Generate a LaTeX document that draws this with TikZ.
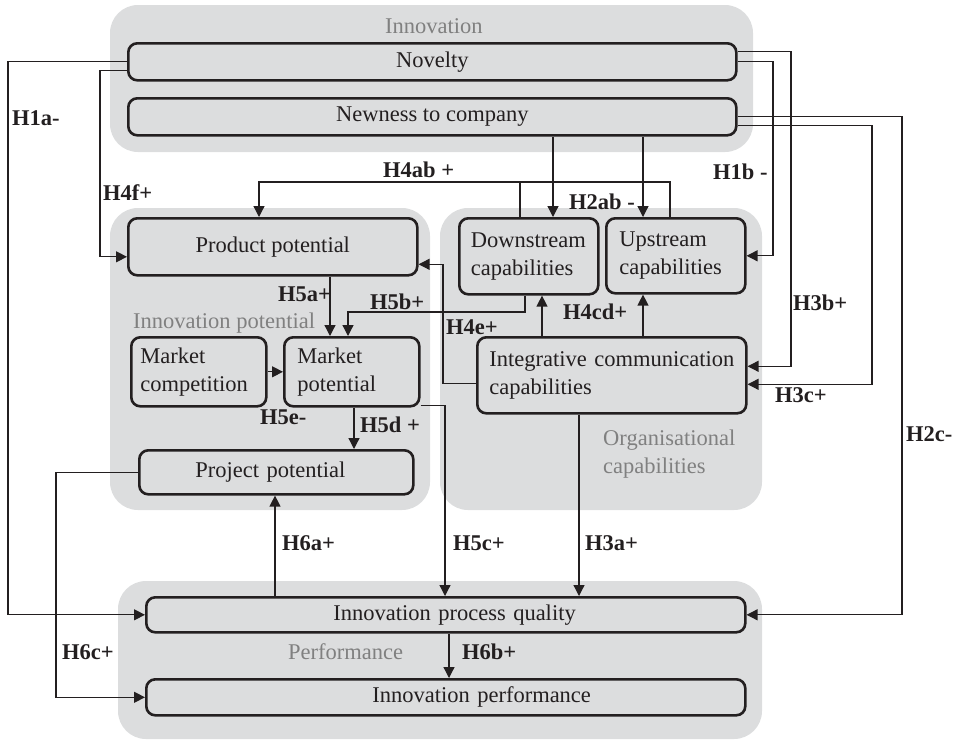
\documentclass[tikz,border=0pt]{standalone}
\usepackage{fontspec}
\setmainfont{Liberation Serif}
\usetikzlibrary{arrows.meta,calc}
\definecolor{grpfill}{HTML}{DCDDDE}
\definecolor{ink}{HTML}{231F20}
\definecolor{glabel}{HTML}{808080}

\tikzset{
  grp/.style={fill=grpfill, rounded corners=28pt},
  box/.style={draw=ink, line width=2.6pt, fill=grpfill, rounded corners=9pt,
    inner sep=0pt, text=ink, font=\fontsize{22.5}{28}\selectfont, anchor=north west},
  conn/.style={draw=ink, line width=1.25pt},
  arr/.style={conn, -{Triangle[length=11pt,width=11pt]}},
  lbl/.style={font=\fontsize{22.5}{28}\selectfont\bfseries, text=ink, inner sep=0pt, anchor=west},
  glbl/.style={font=\fontsize{22.5}{28}\selectfont, text=glabel, inner sep=0pt, anchor=base west},
}

\begin{document}
\begin{tikzpicture}[x=1pt,y=-1pt]
\useasboundingbox (0,0) rectangle (956,740);

% construct groups
\fill[grp] (110,5) rectangle (753,152);
\fill[grp] (110,208) rectangle (430,510);
\fill[grp] (440,208) rectangle (762,510);
\fill[grp] (118,581) rectangle (762,739);

% group titles
\node[glbl] (tInn) at (385,33) {Innovation};
\node[glbl] (tPot) at (133,328) {Innovation potential};
\node[glbl] (tOrg1) at (603,445) {Organisational};
\node[glbl] (tOrg2) at (603,473) {capabilities};
\node[glbl] (tPerf) at (288,659) {Performance};

% constructs
\node[box, minimum width=608pt, minimum height=37pt] (nov) at (127,42) {Novelty};
\node[box, minimum width=608pt, minimum height=37pt] (new) at (127,97) {Newness to company};
\node[box, minimum width=289pt, minimum height=57pt] (prod) at (127,217) {Product potential};
\node[box, minimum width=139pt, minimum height=76pt, text width=116pt, align=left] (down) at (458,217) {Downstream\\capabilities};
\node[box, minimum width=139pt, minimum height=75pt, text width=113pt, align=left] (up) at (605,217) {Upstream\\capabilities};
\node[box, minimum width=135pt, minimum height=69pt, text width=117pt, align=left] (mcomp) at (130,336) {Market\\competition};
\node[box, minimum width=135pt, minimum height=69pt, text width=109pt, align=left] (mpot) at (283,336) {Market\\potential};
\node[box, minimum width=274pt, minimum height=44pt, text width=250pt, align=left] (proj) at (138,449) {\hspace*{44pt}Project potential};
\node[box, minimum width=269pt, minimum height=76pt, text width=245pt, align=left] (integ) at (476,336) {Integrative communication\\capabilities};
\node[box, minimum width=599pt, minimum height=35pt, text width=575pt, align=left] (ipq) at (145,596) {\hspace*{175pt}Innovation process quality};
\node[box, minimum width=599pt, minimum height=36pt, text width=575pt, align=left] (iperf) at (145,678) {\hspace*{214pt}Innovation performance};

% connector columns and rows
\coordinate (cA) at (8,0);
\coordinate (cB) at (100,0);
\coordinate (cC) at (259,0);
\coordinate (cD) at (520,0);
\coordinate (cE) at (670,0);
\coordinate (cF) at (553,0);
\coordinate (cG) at (643,0);
\coordinate (cH) at (773,0);
\coordinate (cI) at (791,0);
\coordinate (cJ) at (902,0);
\coordinate (cK) at (872,0);
\coordinate (cL) at (443,0);
\coordinate (cM) at (525,0);
\coordinate (cN) at (348,0);
\coordinate (cO) at (330,0);
\coordinate (cP) at (542,0);
\coordinate (cQ) at (354,0);
\coordinate (cR) at (445,0);
\coordinate (cS) at (579,0);
\coordinate (cT) at (275,0);
\coordinate (cU) at (56,0);
\coordinate (cV) at (449,0);
\coordinate (r182) at (0,182);
\coordinate (r312) at (0,312);

% hypotheses
\draw[arr] (nov.west) -| (cA |- ipq.west) -- (ipq.west);
\draw[arr] ($(nov.west)+(0,9)$) -| ($(cB |- prod.west)+(0,10)$) -- ($(prod.west)+(0,10)$);
\draw[arr] (cE |- up.north) |- (cC |- r182) -- (cC |- prod.north);
\draw[conn] (cD |- down.north) -- (cD |- r182);
\draw[arr] (cF |- new.south) -- (cF |- down.north);
\draw[arr] (cG |- new.south) -- (cG |- up.north);
\draw[arr] (nov.east) -| (cH |- up.east) -- (up.east);
\draw[arr] ($(nov.east)+(0,-10)$) -| ($(cI |- integ.east)+(0,-9)$) -- ($(integ.east)+(0,-9)$);
\draw[arr] (new.east) -| (cJ |- ipq.east) -- (ipq.east);
\draw[arr] ($(new.east)+(0,9)$) -| ($(cK |- integ.east)+(0,9)$) -- ($(integ.east)+(0,9)$);
\draw[arr] ($(integ.west)+(0,8.5)$) -| ($(cL |- prod.east)+(0,17.5)$) -- ($(prod.east)+(0,17.5)$);
\draw[arr] (cM |- down.south) |- (cN |- r312) -- (cN |- mpot.north);
\draw[arr] (cO |- prod.south) -- (cO |- mpot.north);
\draw[arr] (cP |- integ.north) -- (cP |- down.south);
\draw[arr] (cG |- integ.north) -- (cG |- up.south);
\draw[arr] (mcomp.east) -- (mpot.west);
\draw[arr] (cQ |- mpot.south) -- (cQ |- proj.north);
\draw[arr] ($(mpot.south east)+(0,-2)$) -| (cR |- ipq.north);
\draw[arr] (cS |- integ.south) -- (cS |- ipq.north);
\draw[arr] (cT |- ipq.north) -- (cT |- proj.south);
\draw[arr] (proj.west) -| (cU |- iperf.west) -- (iperf.west);
\draw[arr] (cV |- ipq.south) -- (cV |- iperf.north);

% hypothesis labels
\node[lbl] (lH1a) at (12,118) {H1a-};
\node[lbl] (lH4f) at (103,193) {H4f+};
\node[lbl] (lH4ab) at (383,170) {H4ab +};
\node[lbl] (lH2ab) at (569,202) {H2ab -};
\node[lbl] (lH1b) at (713,172) {H1b -};
\node[lbl] (lH3b) at (793,303) {H3b+};
\node[lbl] (lH3c) at (775,395) {H3c+};
\node[lbl] (lH2c) at (906,434) {H2c-};
\node[lbl] (lH4e) at (446,327) {H4e+};
\node[lbl] (lH5b) at (370,302) {H5b+};
\node[lbl] (lH5a) at (278,294) {H5a+};
\node[lbl] (lH4cd) at (563,312) {H4cd+};
\node[lbl] (lH5e) at (260,417) {H5e-};
\node[lbl] (lH5d) at (360,425) {H5d +};
\node[lbl] (lH5c) at (453,543) {H5c+};
\node[lbl] (lH3a) at (585,543) {H3a+};
\node[lbl] (lH6a) at (282,543) {H6a+};
\node[lbl] (lH6c) at (62,652) {H6c+};
\node[lbl] (lH6b) at (462,652) {H6b+};
\end{tikzpicture}
\end{document}
